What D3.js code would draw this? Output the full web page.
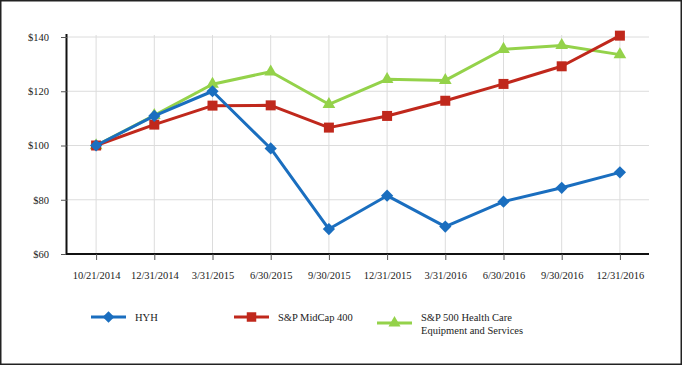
<!DOCTYPE html>
<html>
<head>
<meta charset="utf-8">
<script src="https://cdn.jsdelivr.net/npm/d3@7"></script>
<style>
  html, body { margin: 0; padding: 0; background: #fff; }
  svg { display: block; }
  svg text { font-family: "Liberation Serif", "DejaVu Serif", serif !important; fill: #222; }
</style>
</head>
<body>
<svg id="chart" width="684" height="366"></svg>
<script>
const categories = ["10/21/2014","12/31/2014","3/31/2015","6/30/2015","9/30/2015","12/31/2015","3/31/2016","6/30/2016","9/30/2016","12/31/2016"];
const hyh        = [100, 110.9, 120.0, 98.9, 69.2, 81.5, 70.1, 79.3, 84.4, 90.1];
const midcap     = [100, 107.7, 114.7, 114.8, 106.6, 110.9, 116.5, 122.7, 129.2, 140.5];
const healthcare = [100, 111.1, 122.6, 127.2, 115.2, 124.4, 124.0, 135.5, 136.9, 133.5];
const yTicks     = [60, 80, 100, 120, 140];
const seriesNames = ["HYH", "S&P MidCap 400", "S&P 500 Health Care Equipment and Services"];

const series = [
  {name: seriesNames[0], values: hyh, color: "#1a6ebf", symbol: d3.symbolSquare, size: 75, rotate: 45},
  {name: seriesNames[1], values: midcap, color: "#c0281c", symbol: d3.symbolSquare, size: 100, rotate: 0},
  {name: seriesNames[2], values: healthcare, color: "#94d24a", symbol: d3.symbolTriangle, size: 70, rotate: 0}
];

const svg = d3.select("#chart");

// outer border
svg.append("rect").attr("x", 0.75).attr("y", 0.75).attr("width", 680.5).attr("height", 363.5)
  .attr("fill", "none").attr("stroke", "#222").attr("stroke-width", 1.5);

const pLeft = 67, pRight = 649, pTop = 37, pBottom = 254;
const x = d3.scalePoint().domain(categories).range([pLeft, pRight]).padding(0.5);
const y = d3.scaleLinear().domain([60, 140]).range([pBottom, pTop]);

// grid
const g = svg.append("g");
g.selectAll(".hgrid").data(yTicks.slice(1)).join("line")
  .attr("x1", pLeft).attr("x2", pRight)
  .attr("y1", d => y(d)).attr("y2", d => y(d))
  .attr("stroke", "#dcdcdc").attr("stroke-width", 1);
g.selectAll(".vgrid").data(categories).join("line")
  .attr("x1", d => x(d)).attr("x2", d => x(d))
  .attr("y1", pTop - 2).attr("y2", pBottom)
  .attr("stroke", "#dcdcdc").attr("stroke-width", 1);

// y axis
const yAxis = d3.axisLeft(y).tickValues(yTicks).tickSize(6).tickPadding(12).tickFormat(d => "$" + d);
const ya = svg.append("g").attr("transform", `translate(${pLeft},0)`).call(yAxis);
ya.attr("font-family", null);
ya.select(".domain").attr("d", `M-0.5,${pTop - 3}V${pBottom}`).attr("stroke", "#111").attr("stroke-width", 2);
ya.selectAll(".tick line").attr("stroke", "#555");
ya.selectAll("text").attr("font-size", 10.5).attr("fill", "#222");

// x axis
const xAxis = d3.axisBottom(x).tickSize(6).tickPadding(12);
const xa = svg.append("g").attr("transform", `translate(0,${pBottom})`).call(xAxis);
xa.attr("font-family", null);
xa.select(".domain").attr("d", `M${pLeft - 1},0H${pRight}`).attr("stroke", "#111").attr("stroke-width", 2);
xa.selectAll(".tick line").attr("stroke", "#555");
xa.selectAll("text").attr("font-size", 10.5).attr("fill", "#222");

// lines
const line = d3.line().x((d, i) => x(categories[i])).y(d => y(d));
const drawOrder = [2, 1, 0];
drawOrder.forEach(k => {
  const s = series[k];
  svg.append("path").datum(s.values).attr("d", line)
    .attr("fill", "none").attr("stroke", s.color).attr("stroke-width", 3).attr("stroke-linejoin", "round");
  svg.selectAll(".m" + k).data(s.values).join("path")
    .attr("class", "m" + k)
    .attr("d", d3.symbol().type(s.symbol).size(s.size))
    .attr("transform", (d, i) => `translate(${x(categories[i])},${y(d)}) rotate(${s.rotate})`)
    .attr("fill", s.color);
});

// legend
const legendItems = [
  {s: series[0], lx: 91, ly: 317, lines: ["HYH"]},
  {s: series[1], lx: 234, ly: 317, lines: ["S&P MidCap 400"]},
  {s: series[2], lx: 377, ly: 323, lines: ["S&P 500 Health Care", "Equipment and Services"]}
];
legendItems.forEach(it => {
  const lg = svg.append("g");
  lg.append("line").attr("x1", it.lx).attr("x2", it.lx + 35).attr("y1", it.ly).attr("y2", it.ly)
    .attr("stroke", it.s.color).attr("stroke-width", 3);
  lg.append("path").attr("d", d3.symbol().type(it.s.symbol).size(it.s.size * 0.9))
    .attr("transform", `translate(${it.lx + 17.5},${it.ly}) rotate(${it.s.rotate})`).attr("fill", it.s.color);
  const t = lg.append("text").attr("x", it.lx + 44).attr("y", 320.5).attr("font-size", 10.5);
  it.lines.forEach((l, i) => {
    t.append("tspan").attr("x", it.lx + 44).attr("dy", i === 0 ? 0 : 13).text(l);
  });
});
</script>
</body>
</html>
